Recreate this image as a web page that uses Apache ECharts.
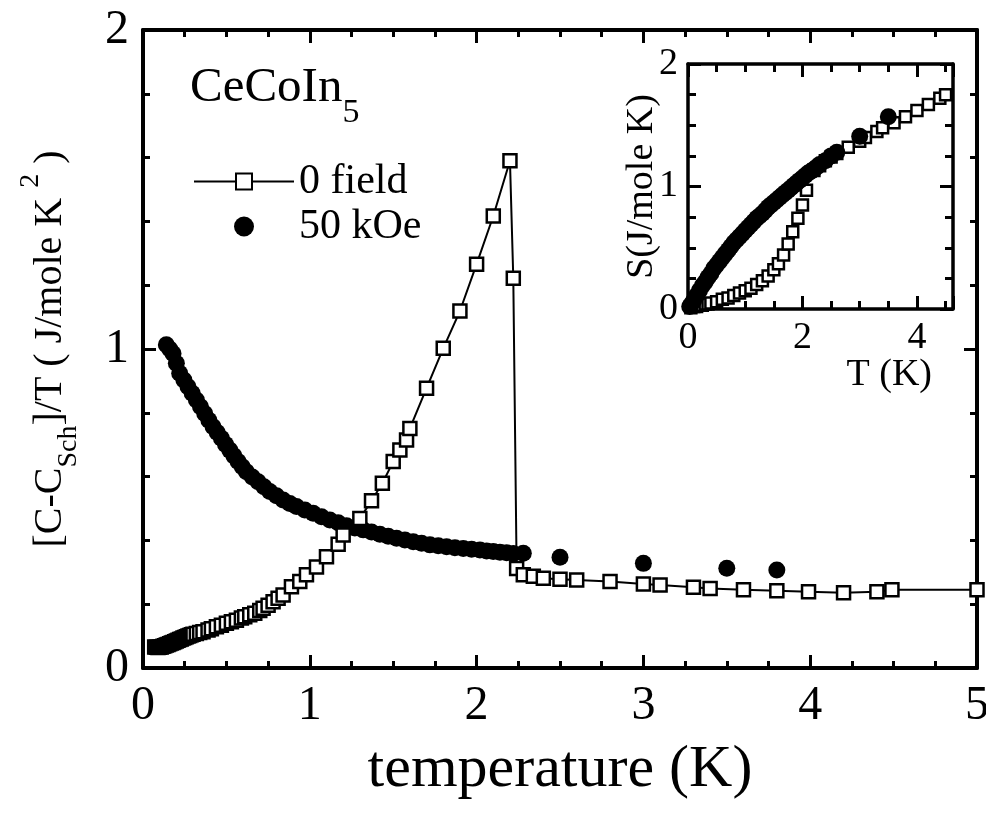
<!DOCTYPE html>
<html><head><meta charset="utf-8">
<script src="https://cdn.jsdelivr.net/npm/echarts@6/dist/echarts.min.js"></script>
<style>html,body{margin:0;padding:0;background:#fff}#c{width:986px;height:817px}</style>
</head><body><div id="c"></div>
<script>
const FONT = 'Liberation Serif';

// ---- main panel: [C - C_Sch]/T vs temperature ----
const mainXTicks = ['0','1','2','3','4','5'];
const mainYTicks = ['0','1','2'];
const insetXTicks = ['0','2','4'];
const insetYTicks = ['0','1','2'];

// 0 field (open squares, joined)
const zeroFieldT = [0.07,0.08,0.09,0.10,0.11,0.12,0.13,0.14,0.15,0.16,0.17,0.18,0.19,0.20,0.21,0.22,0.23,0.24,0.25,0.26,0.27,0.28,0.29,0.30,0.32,0.34,0.36,0.39,0.41,0.44,0.47,0.50,0.53,0.56,0.59,0.61,0.64,0.67,0.70,0.72,0.75,0.78,0.81,0.84,0.89,0.94,0.98,1.04,1.10,1.17,1.20,1.30,1.37,1.435,1.50,1.54,1.58,1.60,1.70,1.80,1.90,2.00,2.10,2.20,2.22,2.24,2.28,2.34,2.40,2.50,2.60,2.80,3.00,3.10,3.30,3.40,3.60,3.80,3.99,4.20,4.40,4.49,5.00];
const zeroFieldC = [0.066,0.065,0.064,0.065,0.066,0.068,0.070,0.072,0.074,0.076,0.078,0.080,0.082,0.085,0.087,0.089,0.091,0.094,0.096,0.098,0.100,0.102,0.104,0.106,0.108,0.111,0.114,0.119,0.123,0.129,0.134,0.140,0.145,0.150,0.157,0.161,0.167,0.172,0.180,0.187,0.197,0.208,0.219,0.229,0.255,0.271,0.292,0.317,0.349,0.388,0.417,0.469,0.524,0.579,0.647,0.683,0.715,0.751,0.877,1.002,1.119,1.266,1.417,1.590,1.222,0.312,0.292,0.288,0.281,0.278,0.276,0.271,0.263,0.260,0.253,0.249,0.245,0.242,0.239,0.236,0.239,0.245,0.245];

// 50 kOe (filled circles)
const kOe50T = [0.14,0.16,0.18,0.20,0.22,0.245,0.27,0.295,0.32,0.345,0.37,0.395,0.42,0.445,0.47,0.495,0.52,0.545,0.57,0.595,0.62,0.655,0.69,0.725,0.76,0.80,0.84,0.88,0.92,0.97,1.02,1.07,1.12,1.17,1.22,1.27,1.32,1.37,1.42,1.47,1.52,1.57,1.62,1.67,1.72,1.77,1.82,1.87,1.92,1.97,2.02,2.06,2.10,2.14,2.18,2.22,2.28,2.50,3.00,3.50,3.80];
const kOe50C = [1.013,1.000,0.986,0.955,0.924,0.903,0.882,0.861,0.840,0.819,0.798,0.777,0.756,0.738,0.720,0.701,0.683,0.665,0.647,0.631,0.615,0.599,0.584,0.568,0.553,0.540,0.527,0.516,0.506,0.495,0.485,0.474,0.464,0.455,0.446,0.439,0.433,0.426,0.419,0.413,0.407,0.401,0.396,0.391,0.386,0.383,0.380,0.377,0.375,0.372,0.370,0.367,0.365,0.363,0.361,0.359,0.360,0.347,0.328,0.313,0.307];

// ---- inset: entropy S vs T ----
const insetZeroT = [0.05,0.1,0.15,0.2,0.25,0.3,0.35,0.4,0.5,0.6,0.7,0.8,0.9,1.0,1.1,1.2,1.3,1.4,1.5,1.58,1.67,1.75,1.83,1.92,2.0,2.07,2.2,2.3,2.4,2.5,2.6,2.8,3.0,3.1,3.3,3.4,3.6,3.8,4.0,4.2,4.4,4.5];
const insetZeroS = [0.01,0.02,0.02,0.03,0.03,0.04,0.04,0.05,0.06,0.08,0.09,0.11,0.13,0.15,0.17,0.20,0.23,0.27,0.32,0.37,0.44,0.53,0.63,0.74,0.85,0.97,1.13,1.17,1.21,1.24,1.27,1.32,1.37,1.40,1.45,1.48,1.52,1.57,1.62,1.67,1.72,1.75];
const insetKOeT = [0.03,0.06,0.10,0.15,0.20,0.25,0.30,0.35,0.40,0.45,0.50,0.55,0.60,0.65,0.70,0.75,0.80,0.85,0.90,0.95,1.00,1.05,1.10,1.15,1.20,1.25,1.30,1.35,1.40,1.45,1.50,1.55,1.60,1.65,1.70,1.75,1.80,1.85,1.90,1.95,2.00,2.05,2.10,2.15,2.20,2.25,2.30,2.40,2.50,2.60,3.00,3.50];
const insetKOeS = [0.02,0.04,0.07,0.11,0.15,0.19,0.22,0.26,0.29,0.33,0.36,0.39,0.42,0.45,0.48,0.51,0.54,0.565,0.59,0.615,0.64,0.665,0.69,0.715,0.74,0.76,0.78,0.805,0.83,0.85,0.87,0.89,0.91,0.93,0.95,0.97,0.99,1.01,1.03,1.05,1.07,1.09,1.11,1.125,1.14,1.16,1.18,1.21,1.25,1.28,1.41,1.57];

const zip = (a, b) => a.map((v, i) => [v, b[i]]);

const tickLabel = (list) => (v) => {
  const s = String(Math.round(v * 1000) / 1000);
  return list.indexOf(s) >= 0 ? s : '';
};

function axisBase(opts) {
  return Object.assign({
    type: 'value',
    nameMoveOverlap: false,
    splitLine: { show: false },
    axisLine: { show: true, onZero: false, lineStyle: { color: '#000', width: 4 } },
    axisTick: { show: true, inside: true, length: 13, lineStyle: { color: '#000', width: 3 } },
    minorTick: { show: true, length: 7, lineStyle: { color: '#000', width: 3 } },
    axisLabel: { show: false },
  }, opts);
}

const mainLabel = (list) => ({ show: true, margin: 14, color: '#000', fontSize: 48, fontFamily: FONT, formatter: tickLabel(list), showMaxLabel: true, showMinLabel: true });
const insetLabel = (list) => ({ show: true, margin: 10, color: '#000', fontSize: 38, fontFamily: FONT, formatter: tickLabel(list), showMaxLabel: false, showMinLabel: true });

const option = {
  animation: false,
  backgroundColor: '#fff',
  grid: [
    { left: 143, top: 30, width: 834, height: 638, outerBoundsMode: 'none' },
    { left: 688, top: 64, width: 265, height: 245, outerBoundsMode: 'none' }
  ],
  xAxis: [
    axisBase({ gridIndex: 0, position: 'bottom', min: 0, max: 5, interval: 1,
      minorTick: { show: true, splitNumber: 4, length: 7, lineStyle: { color: '#000', width: 3 } },
      axisLabel: mainLabel(mainXTicks),
      name: 'temperature (K)', nameLocation: 'middle', nameGap: 72,
      nameTextStyle: { fontSize: 60, fontFamily: FONT, color: '#000' } }),
    axisBase({ gridIndex: 0, position: 'top', min: 0, max: 5, interval: 1,
      minorTick: { show: true, splitNumber: 4, length: 7, lineStyle: { color: '#000', width: 3 } } }),
    axisBase({ gridIndex: 1, position: 'bottom', min: 0, max: 4.63, interval: 2,
      axisLine: { show: true, onZero: false, lineStyle: { color: '#000', width: 3.5 } },
      axisTick: { show: true, inside: true, length: 13, lineStyle: { color: '#000', width: 3 } },
      minorTick: { show: true, splitNumber: 4, length: 8, lineStyle: { color: '#000', width: 3 } },
      axisLabel: insetLabel(insetXTicks),
      name: 'T (K)', nameLocation: 'end', nameGap: -21,
      nameTextStyle: { fontSize: 38, lineHeight: 38, fontFamily: FONT, color: '#000', align: 'right', verticalAlign: 'top', padding: [47, 0, 0, 0] } }),
    axisBase({ gridIndex: 1, position: 'top', min: 0, max: 4.63, interval: 2,
      axisLine: { show: true, onZero: false, lineStyle: { color: '#000', width: 3.5 } },
      axisTick: { show: true, inside: true, length: 13, lineStyle: { color: '#000', width: 3 } },
      minorTick: { show: true, splitNumber: 4, length: 8, lineStyle: { color: '#000', width: 3 } } })
  ],
  yAxis: [
    axisBase({ gridIndex: 0, position: 'left', min: 0, max: 2, interval: 1,
      minorTick: { show: true, splitNumber: 5, length: 7, lineStyle: { color: '#000', width: 3 } },
      axisLabel: mainLabel(mainYTicks),
      name: '[C-C{sub|Sch}]/T ( J/mole K {sup|2} )', nameLocation: 'middle', nameGap: 60, nameRotate: 90,
      nameTextStyle: { fontSize: 40, lineHeight: 66, fontFamily: FONT, color: '#000',
        rich: {
          sub: { fontSize: 28, lineHeight: 28, verticalAlign: 'bottom', fontFamily: FONT, color: '#000' },
          sup: { fontSize: 28, lineHeight: 28, verticalAlign: 'top', fontFamily: FONT, color: '#000' }
        } } }),
    axisBase({ gridIndex: 0, position: 'right', min: 0, max: 2, interval: 1,
      minorTick: { show: true, splitNumber: 5, length: 7, lineStyle: { color: '#000', width: 3 } } }),
    axisBase({ gridIndex: 1, position: 'left', min: 0, max: 2, interval: 1,
      axisLine: { show: true, onZero: false, lineStyle: { color: '#000', width: 3.5 } },
      axisTick: { show: true, inside: true, length: 13, lineStyle: { color: '#000', width: 3 } },
      minorTick: { show: true, splitNumber: 4, length: 8, lineStyle: { color: '#000', width: 3 } },
      axisLabel: Object.assign(insetLabel(insetYTicks), { showMaxLabel: true }),
      name: 'S(J/mole K)', nameLocation: 'middle', nameGap: 26, nameRotate: 90,
      nameTextStyle: { fontSize: 38, lineHeight: 40, fontFamily: FONT, color: '#000' } }),
    axisBase({ gridIndex: 1, position: 'right', min: 0, max: 2, interval: 1,
      axisLine: { show: true, onZero: false, lineStyle: { color: '#000', width: 3.5 } },
      axisTick: { show: true, inside: true, length: 13, lineStyle: { color: '#000', width: 3 } },
      minorTick: { show: true, splitNumber: 4, length: 8, lineStyle: { color: '#000', width: 3 } } })
  ],
  legend: {
    data: ['0 field', '50 kOe'],
    orient: 'vertical', left: 188, top: 154,
    itemWidth: 100, itemHeight: 20, itemGap: 0,
    selectedMode: false,
    textStyle: { fontSize: 42, lineHeight: 45, fontFamily: FONT, color: '#000' }
  },
  graphic: [
    { type: 'text', x: 190, y: 46, silent: true,
      style: { text: 'CeCoIn{s|5}', fontSize: 49, lineHeight: 84, fontFamily: FONT, fill: '#000',
        rich: { s: { fontSize: 34, lineHeight: 34, verticalAlign: 'bottom', fontFamily: FONT, fill: '#000' } } } }
  ],
  series: [
    { name: '50 kOe', type: 'scatter', xAxisIndex: 0, yAxisIndex: 0, z: 2,
      symbol: 'circle', symbolSize: 17, itemStyle: { color: '#000', opacity: 1 },
      data: zip(kOe50T, kOe50C) },
    { name: '0 field', type: 'line', xAxisIndex: 0, yAxisIndex: 0, z: 3,
      symbol: 'rect', symbolSize: 13, showAllSymbol: true,
      itemStyle: { color: '#fff', borderColor: '#000', borderWidth: 2.5, opacity: 1 },
      lineStyle: { color: '#000', width: 2 },
      data: zip(zeroFieldT, zeroFieldC) },
    { name: 'S 0 field', type: 'scatter', xAxisIndex: 2, yAxisIndex: 2, z: 2,
      symbol: 'rect', symbolSize: 11,
      itemStyle: { color: '#fff', borderColor: '#000', borderWidth: 2.5, opacity: 1 },
      data: zip(insetZeroT, insetZeroS) },
    { name: 'S 50 kOe', type: 'scatter', xAxisIndex: 2, yAxisIndex: 2, z: 3,
      symbol: 'circle', symbolSize: 17, itemStyle: { color: '#000', opacity: 1 },
      data: zip(insetKOeT, insetKOeS) }
  ]
};

const chart = echarts.init(document.getElementById('c'), null, { renderer: 'canvas' });
chart.setOption(option);
</script>
</body></html>
